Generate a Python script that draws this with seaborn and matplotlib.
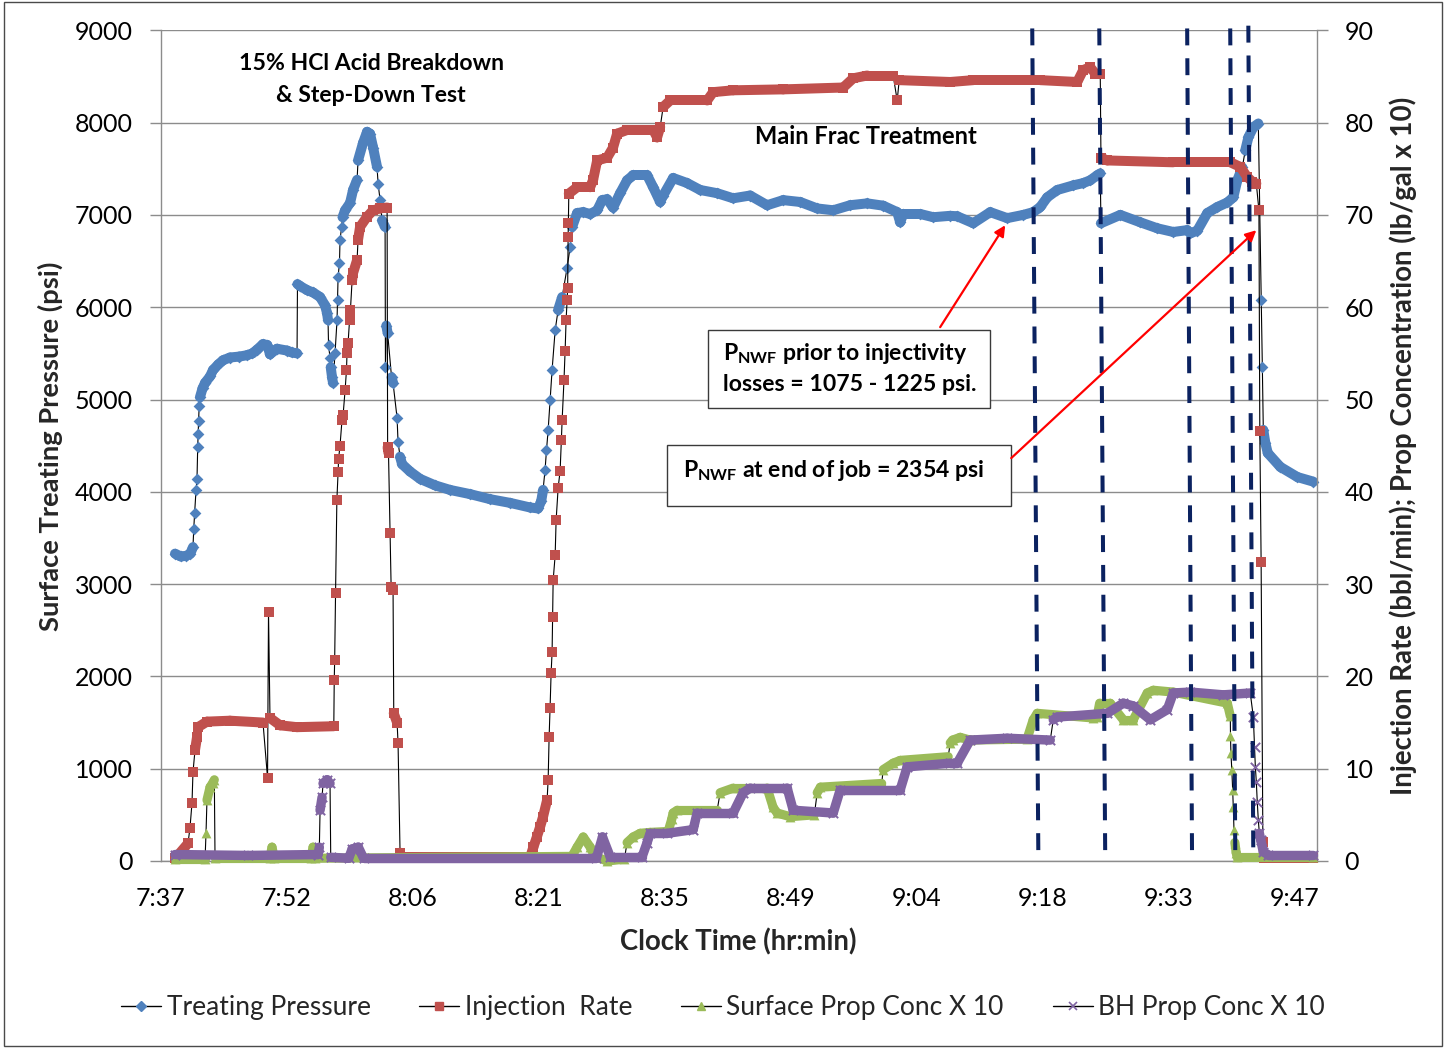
import numpy as np
import pandas as pd
import matplotlib
matplotlib.use("Agg")
import matplotlib.pyplot as plt
import seaborn as sns
from matplotlib.collections import LineCollection
from matplotlib.patches import Rectangle, FancyArrowPatch
from matplotlib.lines import Line2D

# ---------------------------------------------------------------------------
# Treatment record; time in minutes from 7:37 (axis origin)
# ---------------------------------------------------------------------------
time_ticks = [0.0, 14.4, 28.8, 43.2, 57.6, 72.0, 86.4, 100.8, 115.2, 129.6]
time_labels = ["7:37", "7:52", "8:06", "8:21", "8:35", "8:49", "9:04", "9:18", "9:33", "9:47"]

pressure_t = [1.66, 2.3, 2.9, 3.4, 3.71, 3.8, 3.9, 4.06, 4.17, 4.25, 4.3, 4.35, 4.42, 4.51, 4.8,
              5.09, 5.66, 6.0, 6.6, 7.14, 7.94, 9.0, 9.89, 10.5, 11.03, 11.71, 12.2, 12.51, 13.31,
              14.46, 15.0, 15.6,
              15.65, 15.94, 16.74, 17.43, 18.23, 18.8, 19.03, 19.14, 19.2, 19.37, 19.45, 19.6, 19.71,
              19.94, 20.17, 20.23, 20.29, 20.45, 20.51, 20.7, 20.8, 21.09, 21.66, 22.0, 22.46, 22.57,
              23.14, 23.6, 23.94, 24.29, 24.74, 24.86, 25.09, 25.31, 25.66,
              25.7, 25.8, 25.95, 26.4, 26.57, 27.03, 27.14, 27.37, 27.6, 28.51, 29.66, 31.37, 33.09,
              35.37, 37.66, 39.94, 42.23, 43.14,
              43.5, 43.71, 43.94, 44.1, 44.29, 44.51, 44.74, 45.09, 45.43, 45.89, 46.46, 46.8, 47.03,
              47.6, 48.29, 49.09, 49.89, 50.46, 51.03, 51.71, 52.51, 53.31, 54.0, 55.6, 56.29, 57.09,
              57.43, 58.57, 60.17, 61.66, 63.6, 65.43, 67.37, 69.31, 71.14, 73.09, 75.03, 76.86, 78.8,
              80.74, 82.57, 84.17, 84.51, 84.86, 86.8, 88.29, 90.23, 91.03, 92.86, 94.8, 96.74, 98.57,
              99.71, 100.51, 101.31, 102.46, 104.29, 105.43, 106.23, 107.03, 107.37,
              107.45, 109.66, 111.94, 113.89, 115.71, 117.31, 117.66, 118.46, 119.6, 120.74, 121.89,
              122.57, 123.03, 123.6, 123.94, 124.29, 124.86, 125.43,
              125.77, 125.89, 126.0, 126.23, 126.51, 127.94, 129.89, 131.71]
pressure_psi = [3330, 3300, 3305, 3330, 3400, 3600, 3770, 4020, 4140, 4480, 4625, 4765, 4930, 5025, 5120,
                5180, 5250, 5320, 5380, 5425, 5455, 5465, 5480, 5500, 5540, 5600, 5590, 5490, 5550,
                5530, 5510, 5500,
                6250, 6230, 6185, 6160, 6110, 6020, 5935, 5860, 5590, 5450, 5350, 5240, 5180,
                5500, 5860, 6080, 6330, 6480, 6730, 6870, 6975, 7050, 7130, 7270, 7380, 7590,
                7780, 7900, 7880, 7730, 7520, 7340, 7160, 6940, 6870,
                5350, 5800, 5720, 5240, 5180, 4800, 4540, 4380, 4300, 4220, 4140, 4070, 4020,
                3975, 3920, 3880, 3830, 3820,
                3900, 4020, 4240, 4450, 4670, 4990, 5320, 5750, 5970, 6110, 6430, 6650, 6870,
                7020, 7030, 7010, 7050, 7160, 7170, 7080, 7235, 7375, 7430, 7430, 7300, 7140,
                7210, 7400, 7345, 7270, 7235, 7180, 7210, 7105, 7160, 7140, 7070, 7050, 7105,
                7125, 7100, 7030, 6920, 7010, 7010, 6975, 6990, 6985, 6910, 7030, 6965, 7000,
                7030, 7085, 7190, 7270, 7320, 7345, 7375, 7430, 7450,
                6910, 7000, 6920, 6855, 6815, 6835, 6800, 6830, 7020, 7085, 7135,
                7190, 7375, 7515, 7700, 7840, 7950, 7990,
                6080, 5350, 4670, 4530, 4420, 4270, 4160, 4110]

rate_t = [1.7, 3.14, 3.37, 3.6, 3.71, 3.94, 4.17, 4.29, 5.31, 7.94, 11.71, 12.23, 12.34, 12.51, 13.66,
          15.6, 19.8,
          19.85, 19.9, 20.0, 20.15, 20.29, 20.35, 20.51, 20.74, 20.86, 21.09, 21.25, 21.31, 21.43, 21.6,
          21.7, 21.89, 22.0, 22.46, 22.57, 22.8, 23.6, 24.29, 25.09, 25.89,
          25.95, 26.05, 26.23, 26.35, 26.57, 26.65, 27.03, 27.14, 27.37, 27.5, 42.23,
          42.6, 43.0, 43.37, 43.71, 44.17, 44.29, 44.4, 44.51, 44.63, 44.74, 44.8, 44.86, 45.09, 45.2,
          45.43, 45.66, 45.8, 45.89, 46.1, 46.23, 46.34, 46.46, 46.52, 46.57, 46.6, 46.65, 47.6, 49.09,
          49.43, 49.89, 51.03, 51.71, 52.17, 53.31, 56.29, 56.74, 57.09, 57.43, 58.23, 62.46, 63.14,
          65.43, 71.14, 78.0, 79.14, 80.74, 83.71, 84.17, 84.4, 90.23, 92.86, 100.51, 104.74, 105.43,
          106.23, 106.8, 107.37,
          107.45, 108.17, 115.71, 122.23, 123.37, 124.17, 124.74, 125.2, 125.5, 125.6, 125.75, 125.95,
          126.1, 131.71]
rate_bpm = [0.3, 1.9, 3.6, 6.3, 9.6, 12.0, 13.4, 14.5, 15.1, 15.2, 15.0, 9.0, 27.0, 15.5, 14.7,
            14.5, 14.6,
            19.6, 21.8, 29.0, 39.1, 42.1, 43.6, 45.0, 47.8, 48.3, 51.0, 53.2, 55.0, 56.1, 58.6,
            59.7, 62.9, 63.7, 65.1, 67.3, 68.7, 69.8, 70.5, 70.7, 70.8,
            44.8, 44.2, 35.5, 29.7, 29.4, 16.0, 15.0, 12.8, 0.9, 0.4, 0.4,
            1.5, 2.6, 3.7, 4.8, 6.6, 8.8, 13.4, 16.6, 20.4, 22.6, 26.4, 30.4, 33.1, 36.9,
            40.4, 42.3, 45.6, 47.8, 52.1, 55.3, 58.6, 60.8, 62.1, 67.6, 69.1, 72.3, 73.0, 73.0,
            73.8, 75.9, 76.2, 77.3, 78.8, 79.2, 79.2, 78.4, 79.5, 81.7, 82.4, 82.4, 83.3,
            83.5, 83.6, 83.8, 84.8, 85.1, 85.1, 82.4, 84.6, 84.4, 84.6, 84.6, 84.4, 85.7,
            86.0, 85.3, 85.3,
            76.2, 75.9, 75.7, 75.7, 75.2, 74.1, 73.6, 73.4, 70.5, 46.6, 32.4, 2.1,
            0.3, 0.3]

surface_t = [1.66, 5.09, 5.2, 5.31, 5.66, 6.0, 6.15, 6.23, 12.5, 12.74, 13.0, 17.2, 17.43, 17.7,
             47.0, 47.6, 48.3, 49.1, 49.6, 51.03, 53.0, 53.31, 54.0, 54.8, 55.94, 58.0, 58.4, 58.57,
             59.03, 63.6, 63.94, 65.43, 69.31, 70.0, 70.46, 71.94, 74.7, 75.03, 75.4, 82.4, 82.57,
             83.71, 84.51, 90.0, 90.23, 90.5, 91.37, 92.5, 99.0, 99.71, 100.17, 106.5, 107.0, 107.3,
             108.5, 110.0, 111.14, 112.74, 113.43, 115.71, 121.89, 122.23, 122.25, 122.3, 122.4,
             122.5, 122.57, 122.65, 122.75, 122.9, 123.03, 131.71]
surface_conc = [0.2, 0.2, 3.0, 6.6, 8.0, 8.5, 8.8, 0.3, 0.3, 1.5, 0.3, 0.3, 1.5, 0.3,
                0.5, 1.5, 2.6, 1.5, 0.5, 0.0, 0.2, 2.0, 2.6, 3.0, 3.1, 3.2, 4.5, 5.2,
                5.5, 5.5, 7.4, 7.9, 7.9, 5.8, 5.2, 4.8, 5.0, 7.4, 8.0, 8.4, 9.9,
                10.6, 10.9, 11.3, 12.8, 13.1, 13.4, 13.1, 13.2, 15.3, 16.0, 15.5, 15.6, 17.1,
                17.1, 15.3, 15.3, 18.2, 18.5, 18.3, 17.1, 15.7, 13.5, 11.7, 9.9,
                7.7, 5.8, 3.4, 2.0, 0.9, 0.4, 0.4]

bh_t = [1.66, 10.0, 18.0, 18.15, 18.23, 18.46, 18.57, 19.03, 19.37, 19.45, 21.5, 21.9, 22.6, 23.2,
        49.8, 50.5, 51.4, 55.0, 55.6, 55.94, 57.89, 60.86, 61.31, 65.43, 66.57, 67.37, 71.6, 72.29,
        76.86, 77.66, 84.51, 85.31, 90.23, 91.03, 92.51, 96.74, 101.66, 102.0, 102.46, 108.17, 110.0,
        111.14, 113.09, 115.03, 115.71, 117.66, 121.43, 124.51, 124.86, 125.0, 125.09, 125.2, 125.31,
        125.43, 125.55, 125.7, 126.0, 126.5, 131.71]
bh_conc = [0.7, 0.6, 0.7, 1.5, 5.5, 6.9, 8.4, 8.8, 8.4, 0.4, 0.3, 1.3, 1.5, 0.3,
           0.3, 2.6, 0.4, 0.4, 2.0, 3.0, 3.0, 3.4, 5.2, 5.2, 7.4, 7.9, 7.9, 5.5,
           5.2, 7.7, 7.7, 10.2, 10.6, 10.6, 13.1, 13.3, 13.1, 15.3, 15.6, 16.0, 17.1,
           16.8, 15.3, 16.4, 18.2, 18.3, 18.0, 18.2, 15.6, 12.3, 10.2, 8.6, 6.4,
           4.4, 3.0, 2.3, 1.0, 0.7, 0.7]

# stage-change markers (top and bottom ends, minutes)
stage_top_t = [99.6, 107.26, 117.3, 122.22, 124.29]
stage_bot_t = [100.3, 107.94, 117.86, 122.8, 124.86]

series_names = ["Treating Pressure", "Injection  Rate", "Surface Prop Conc X 10", "BH Prop Conc X 10"]

BLUE, RED, GREEN, PURPLE = "#4F81BD", "#C0504D", "#9BBB59", "#8064A2"
GRID = "#8c8c8c"
NAVY = "#0b2260"

# ---------------------------------------------------------------------------
sns.set_theme(style="white")
plt.rcParams["font.family"] = ["Lato", "DejaVu Sans"]
plt.rcParams["mathtext.fontset"] = "custom"
plt.rcParams["mathtext.rm"] = "Lato:bold"
plt.rcParams["mathtext.it"] = "Lato:bold"
plt.rcParams["mathtext.bf"] = "Lato:bold"

W, H = 1446, 1048
fig = plt.figure(figsize=(W / 100, H / 100), dpi=100)
fig.patch.set_facecolor("white")
L, R, T, B = 160.5, 1316.7, 30.3, 861.0
ax = fig.add_axes([L / W, 1 - B / H, (R - L) / W, (B - T) / H])
ax2 = ax.twinx()

ax.set_xlim(0, 132.1)
ax.set_ylim(0, 9000)
ax2.set_ylim(0, 90)

ax.set_yticks(np.arange(0, 9001, 1000))
ax2.set_yticks(np.arange(0, 91, 10))
ax.set_xticks(time_ticks)
ax.set_xticklabels(time_labels)
ax.grid(axis="y", color=GRID, lw=1.0)
ax.grid(axis="x", visible=False)
ax.set_axisbelow(True)

for a in (ax, ax2):
    for s in a.spines.values():
        s.set_visible(False)
ax.spines["left"].set_visible(True)
ax.spines["bottom"].set_visible(True)
ax2.spines["right"].set_visible(True)
for s in (ax.spines["left"], ax.spines["bottom"], ax2.spines["right"]):
    s.set_color(GRID)
    s.set_linewidth(1.0)

ax.tick_params(axis="both", direction="out", length=8, width=1, color=GRID,
               labelsize=18, labelcolor="black", pad=12)
ax2.tick_params(axis="y", direction="out", length=8, width=1, color=GRID,
                labelsize=18, labelcolor="black", pad=12)
ax.tick_params(axis="x", pad=11)
ax.set_xlabel("")
ax.set_ylabel("")
ax2.set_ylabel("")


def draw_series(axis, t, v, color, marker, size, z, lw_marker=0.0, band_lw=7.0):
    t = np.asarray(t, float)
    v = np.asarray(v, float)
    xy = np.column_stack([t, v])
    px = axis.transData.transform(xy)
    d = np.diff(px, axis=0)
    steep = np.abs(d[:, 1]) > 3.5 * np.abs(d[:, 0]) + 6
    segs = np.stack([xy[:-1], xy[1:]], axis=1)[~steep]
    sns.lineplot(x=t, y=v, ax=axis, color="black", linewidth=0.8, sort=False,
                 estimator=None, zorder=z, clip_on=False)
    band = LineCollection(segs, colors=color, linewidths=band_lw, capstyle="round",
                          joinstyle="round", zorder=z + 0.2)
    band.set_clip_on(False)
    axis.add_collection(band)
    kw = dict(linewidth=lw_marker) if lw_marker else dict(linewidth=0)
    sns.scatterplot(x=t, y=v, ax=axis, color=color, marker=marker, s=size,
                    zorder=z + 0.4, clip_on=False, **kw)


draw_series(ax, pressure_t, pressure_psi, BLUE, "D", 36, 3, band_lw=7.2)
draw_series(ax2, rate_t, rate_bpm, RED, "s", 55, 3, band_lw=7.2)
draw_series(ax2, surface_t, surface_conc, GREEN, "^", 50, 4, band_lw=6.6)
draw_series(ax2, bh_t, bh_conc, PURPLE, "x", 45, 5, lw_marker=1.4, band_lw=6.8)

ax.set_xlim(0, 132.1)
ax.set_ylim(0, 9000)
ax2.set_ylim(0, 90)

# stage-change dashed lines
for i, (t0, t1) in enumerate(zip(stage_top_t, stage_bot_t)):
    top = 9050 if i == len(stage_top_t) - 1 else 9020
    ln = Line2D([t0, t1], [top, 10], transform=ax.transData, color=NAVY, lw=2.9,
                dashes=(4.2, 3.2), zorder=8)
    ln.set_clip_on(False)
    ax2.add_line(ln)

# annotations
def note(x, y, s, size=16.6, **kw):
    ax2.text(x, y, s, transform=ax.transData, fontsize=size, fontweight="bold",
             color="black", zorder=12, **kw)

note(24.06, 8643, "15% HCl Acid Breakdown", ha="center", va="center")
note(24.06, 8296, "& Step-Down Test", ha="center", va="center")
note(80.63, 7852, "Main Frac Treatment", size=17.0, ha="center", va="center")

box1 = Rectangle((62.57, 4906), 94.8 - 62.57, 5751 - 4906, transform=ax.transData,
                 facecolor="white", edgecolor="#3a3a3a", lw=1.0, zorder=11)
box2 = Rectangle((57.89, 3845), 97.2 - 57.89, 4506 - 3845, transform=ax.transData,
                 facecolor="white", edgecolor="#3a3a3a", lw=1.0, zorder=11)
ax2.add_patch(box1)
ax2.add_patch(box2)
note(64.29, 5502, r"$\mathrm{P_{NWF}}$ prior to injectivity", ha="left", va="center")
note(64.29, 5166, "losses = 1075 - 1225 psi.", ha="left", va="center")
note(59.71, 4235, r"$\mathrm{P_{NWF}}$ at end of job = 2354 psi", ha="left", va="center")

for (xa, ya), (xb, yb) in [((89.08, 5784), (96.51, 6888)), ((97.2, 4365), (125.2, 6834))]:
    arr = FancyArrowPatch((xa, ya), (xb, yb), transform=ax.transData, arrowstyle="-|>",
                          mutation_scale=16, color="#ff0000", lw=1.6, zorder=12,
                          shrinkA=0, shrinkB=0)
    arr.set_clip_on(False)
    ax2.add_patch(arr)

# axis titles
fig.text(50 / W, 1 - 446 / H, "Surface Treating Pressure (psi)", rotation=90,
         ha="center", va="center", fontsize=19.7, fontweight="bold")
fig.text(1403 / W, 1 - 446 / H, "Injection Rate (bbl/min); Prop Concentration (lb/gal x 10)",
         rotation=90, ha="center", va="center", fontsize=19.9, fontweight="bold")
fig.text(738 / W, 1 - 942 / H, "Clock Time (hr:min)", ha="center", va="center",
         fontsize=19.8, fontweight="bold")

# legend
handles = [
    Line2D([0], [0], color="black", lw=1, marker="D", ms=5, mfc=BLUE, mec=BLUE),
    Line2D([0], [0], color="black", lw=1, marker="s", ms=5.5, mfc=RED, mec=RED),
    Line2D([0], [0], color="black", lw=1, marker="^", ms=5.5, mfc=GREEN, mec=GREEN),
    Line2D([0], [0], color="black", lw=1, marker="x", ms=6, mec=PURPLE, mew=1.2),
]
fig.legend(handles, series_names, loc="center", bbox_to_anchor=(0.5, 1 - 1008 / H), ncol=4,
           frameon=False, fontsize=19, handlelength=1.52, handletextpad=0.2, columnspacing=1.85)

# chart border
fig.patches.append(Rectangle((4 / W, 2 / H), 1438 / W, 1044 / H, transform=fig.transFigure,
                             fill=False, edgecolor="#4a4a4a", lw=1.0))

fig.savefig("out.png", dpi=100)
